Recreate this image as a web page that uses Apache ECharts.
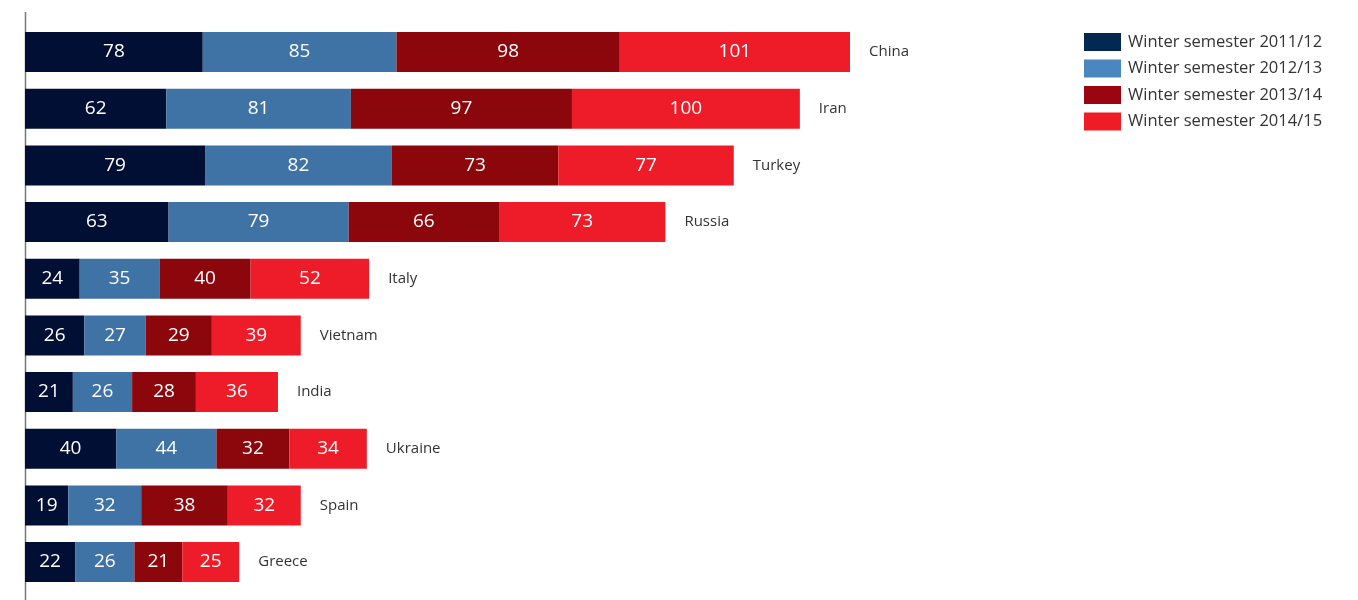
<!DOCTYPE html>
<html><head><meta charset="utf-8">
<script src="https://cdn.jsdelivr.net/npm/echarts@6/dist/echarts.min.js"></script>
<style>html,body{margin:0;padding:0;background:#fff}#c{width:1358px;height:600px}</style>
</head><body><div id="c"></div>
<script>
const categories = ['China','Iran','Turkey','Russia','Italy','Vietnam','India','Ukraine','Spain','Greece'];
const ws2011 = [78,62,79,63,24,26,21,40,19,22];
const ws2012 = [85,81,82,79,35,27,26,44,32,26];
const ws2013 = [98,97,73,66,40,29,28,32,38,21];
const ws2014 = [101,100,77,73,52,39,36,34,32,25];
const seriesNames = ['Winter semester 2011/12','Winter semester 2012/13','Winter semester 2013/14','Winter semester 2014/15'];
const barColors = ['#000f33','#3f73a5','#8b070c','#ee1c28'];
const legendColors = ['#002850','#4a87c0','#9b0510','#ee1c25'];

const font = '"Open Sans", "Noto Sans", sans-serif';
const chart = echarts.init(document.getElementById('c'));
const data = [ws2011, ws2012, ws2013, ws2014];
const series = data.map((d, i) => ({
  name: seriesNames[i], type: 'bar', stack: 'a', barWidth: 40,
  data: d, itemStyle: {color: barColors[i]},
  label: {show: true, position: 'inside', color: '#fff', fontSize: 19, fontFamily: font},
  emphasis: {disabled: true}
}));
series.push({
  name: 'cat', type: 'bar', stack: 'a', barWidth: 40,
  data: categories.map(() => 0), itemStyle: {color: 'transparent'},
  label: {show: true, position: 'right', distance: 19, color: '#333', fontSize: 15, fontFamily: font,
    formatter: p => p.name},
  emphasis: {disabled: true}
});
chart.setOption({
  animation: false,
  textStyle: {fontFamily: font},
  grid: {left: 25, top: 23.7, width: 911.6, height: 566.7},
  xAxis: {type: 'value', min: 0, max: 400, show: false},
  yAxis: {type: 'category', data: categories, inverse: true,
    axisLine: {show: false}, axisTick: {show: false}, axisLabel: {show: false}},
  legend: {
    orient: 'vertical', left: 1079, top: 28, itemWidth: 37, itemHeight: 18, itemGap: 8.5,
    icon: 'rect', selectedMode: false,
    textStyle: {fontSize: 16.5, color: '#333', fontFamily: font, padding: [0,0,0,2]},
    data: seriesNames.map((n, i) => ({name: n, itemStyle: {color: legendColors[i]}}))
  },
  graphic: [{type: 'line', shape: {x1: 25.5, y1: 12, x2: 25.5, y2: 600},
    style: {stroke: '#777', lineWidth: 1.5}}],
  series
});
</script></body></html>
